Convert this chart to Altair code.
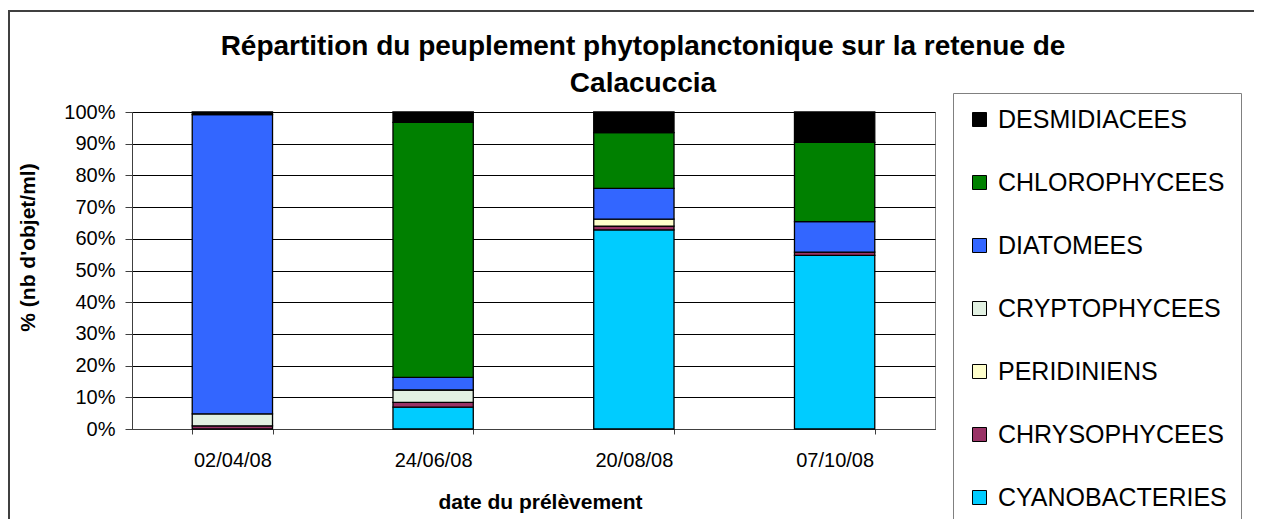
import altair as alt
import pandas as pd

dates = ["02/04/08", "24/06/08", "20/08/08", "07/10/08"]
groups = ["DESMIDIACEES", "CHLOROPHYCEES", "DIATOMEES", "CRYPTOPHYCEES",
          "PERIDINIENS", "CHRYSOPHYCEES", "CYANOBACTERIES"]
colors = ["#000000", "#008000", "#3366FF", "#E2F1E2", "#FFFFCC", "#993366", "#00CCFF"]
title_lines = ["Répartition du peuplement phytoplanctonique sur la retenue de",
               "Calacuccia"]

cyano = [0.0, 6.9, 62.8, 54.8]
chryso = [1.0, 1.5, 1.2, 1.0]
peri = [0.0, 0.0, 2.2, 0.0]
crypto = [3.8, 3.9, 0.0, 0.0]
diatom = [94.4, 4.0, 9.7, 9.6]
chloro = [0.0, 80.4, 17.6, 25.0]
desmid = [0.8, 3.3, 6.5, 9.6]

series = {
    "CYANOBACTERIES": cyano,
    "CHRYSOPHYCEES": chryso,
    "PERIDINIENS": peri,
    "CRYPTOPHYCEES": crypto,
    "DIATOMEES": diatom,
    "CHLOROPHYCEES": chloro,
    "DESMIDIACEES": desmid,
}

rows = []
for k, (name, vals) in enumerate(series.items()):
    for d, v in zip(dates, vals):
        if v > 0:
            rows.append({"date": d, "groupe": name, "pct": v, "ord": k})
df = pd.DataFrame(rows)

FONT = "Liberation Sans"
one = pd.DataFrame({"k": [0]})

frame = alt.Chart(one).mark_rect(
    fill="white", fillOpacity=0, stroke="#404040", strokeWidth=2
).encode(
    x=alt.value(-123), x2=alt.value(1400), y=alt.value(-101), y2=alt.value(700)
)

title1 = alt.Chart(one).mark_text(
    text=title_lines[0], font=FONT, fontSize=28, fontWeight="bold",
    color="black", align="center", baseline="alphabetic"
).encode(x=alt.value(511), y=alt.value(-57))

title2 = alt.Chart(one).mark_text(
    text=title_lines[1], font=FONT, fontSize=28, fontWeight="bold",
    color="black", align="center", baseline="alphabetic"
).encode(x=alt.value(511), y=alt.value(-20))

bars = alt.Chart(df).mark_bar(stroke="black", strokeWidth=1.3).encode(
    x=alt.X("date:N", sort=dates,
            scale=alt.Scale(paddingInner=0.6, paddingOuter=0.3),
            axis=alt.Axis(title="date du prélèvement", labelAngle=0,
                          labelFontSize=20, labelPadding=16, tickSize=5,
                          tickBand="extent", tickColor="#404040",
                          domainColor="#404040", labelColor="black",
                          titleFontSize=21, titleFontWeight="bold",
                          titleX=408, titleY=73, titleBaseline="middle",
                          titleAlign="center")),
    y=alt.Y("pct:Q", stack="normalize",
            scale=alt.Scale(domain=[0, 1]),
            axis=alt.Axis(title="% (nb d'objet/ml)", format=".0%",
                          values=[i / 10 for i in range(11)],
                          labelFontSize=20, labelPadding=10, tickSize=7,
                          tickColor="#404040", domainColor="#404040",
                          labelColor="black", grid=True, gridColor="black",
                          gridWidth=1, titleFontSize=21, titleFontWeight="bold",
                          titleAngle=-90, titleX=-104, titleY=135,
                          titleBaseline="middle", titleAlign="center")),
    color=alt.Color("groupe:N",
                    scale=alt.Scale(domain=groups, range=colors),
                    legend=alt.Legend(title=None, orient="none",
                                      legendX=821, legendY=-19,
                                      padding=14, strokeColor="#808080",
                                      fillColor="white",
                                      symbolType="square", symbolSize=196,
                                      symbolStrokeColor="black",
                                      symbolStrokeWidth=1,
                                      labelFontSize=25, labelOffset=6,
                                      rowPadding=37, labelColor="black",
                                      labelFont=FONT, labelLimit=400)),
    order=alt.Order("ord:Q", sort="ascending"),
)

chart = alt.layer(frame, title1, title2, bars).properties(
    width=803, height=317,
    autosize=alt.AutoSizeParams(type="none"),
    padding={"left": 124, "top": 104, "right": 319, "bottom": 90},
).configure(font=FONT).configure_view(
    stroke="#808080", strokeWidth=1
).configure_axis(labelFont=FONT, titleFont=FONT, titleColor="black")

chart.save("out.html", embed_options={"renderer": "svg", "actions": False})
